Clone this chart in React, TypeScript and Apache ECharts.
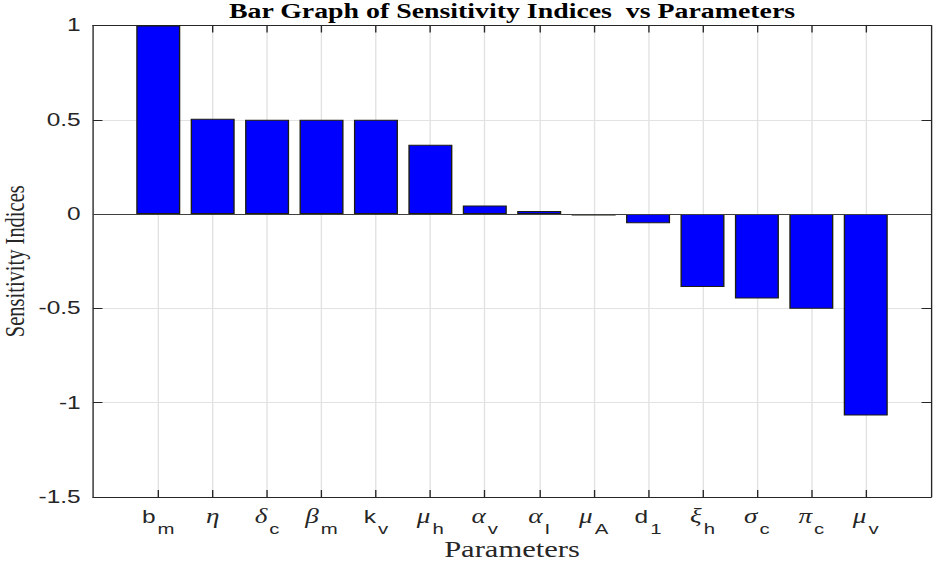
import React, { useEffect, useRef } from 'react';
import * as echarts from 'echarts';

// ---- data ----
const paramBase = ['b', 'η', 'δ', 'β', 'k', 'μ', 'α', 'α', 'μ', 'd', 'ξ', 'σ', 'π', 'μ'];
const paramSub = ['m', '', 'c', 'm', 'v', 'h', 'v', 'I', 'A', '1', 'h', 'c', 'c', 'v'];
const sensitivity = [1.0, 0.505, 0.5, 0.5, 0.5, 0.368, 0.045, 0.017, -0.007, -0.048, -0.386, -0.448, -0.502, -1.068];
const yMin = -1.5;
const yMax = 1;
const yStep = 0.5;
const titleText = 'Bar Graph of Sensitivity Indices  vs Parameters';
const xName = 'Parameters';
const yName = 'Sensitivity Indices';

// ---- layout (the reference is horizontally stretched) ----
const W0 = 688;
const H0 = 562;
const STRETCH = 935 / W0;
const GRID_L = 68.4;
const GRID_R = 2.9;
const GRID_T = 25.5;
const GRID_B = 65;
const TOKEN_H = 16;
const SUB_DROP = 12;

const AXIS_COLOR = '#262626';
const GRID_COLOR = '#e2e2e2';

export default function App() {
  const ref = useRef<HTMLDivElement>(null);

  useEffect(() => {
    if (!ref.current) return;
    const chart = echarts.init(ref.current, undefined, { renderer: 'svg' });
    const idx = paramBase.map((_, i) => i);
    const xMin = -1.2;
    const xMax = paramBase.length - 1 + 1.2;
    const cx = (GRID_L + (W0 - GRID_R)) / 2;
    const cy = (GRID_T + (H0 - GRID_B)) / 2;

    const labelFormatter = (v: number) => {
      const i = Math.round(v);
      const base = paramBase[i];
      if (base === undefined) return '';
      const sub = paramSub[i];
      const greek = /[\u0370-\u03ff]/.test(base);
      return `{${greek ? 'g' : 'n'}|${base}}` + (sub ? `{s|${sub}}` : '');
    };

    const frameLine = { show: true, onZero: false, lineStyle: { color: AXIS_COLOR, width: 1 } };

    chart.setOption({
      animation: false,
      backgroundColor: '#ffffff',
      grid: { left: GRID_L, right: GRID_R, top: GRID_T, bottom: GRID_B, containLabel: false },
      xAxis: [
        {
          type: 'value',
          position: 'bottom',
          min: xMin,
          max: xMax,
          axisLine: frameLine,
          axisTick: { show: true, inside: true, length: 7, customValues: idx, lineStyle: { color: AXIS_COLOR } },
          axisLabel: {
            customValues: idx,
            formatter: labelFormatter,
            margin: 11.75,
            color: AXIS_COLOR,
            rich: {
              n: { fontFamily: 'Liberation Sans', fontSize: 18, color: AXIS_COLOR, height: TOKEN_H, padding: [0, 0, SUB_DROP, 0] },
              g: { fontFamily: 'Liberation Serif', fontStyle: 'italic', fontSize: 20, color: AXIS_COLOR, height: TOKEN_H, padding: [0, 0, SUB_DROP, 0] },
              s: { fontFamily: 'Liberation Sans', fontSize: 15, color: AXIS_COLOR, height: TOKEN_H, padding: [SUB_DROP, 0, 0, 1.5] },
            },
          },
          splitLine: { show: true, lineStyle: { color: GRID_COLOR, width: 1 } },
        },
        {
          type: 'value',
          position: 'top',
          min: xMin,
          max: xMax,
          axisLine: frameLine,
          axisTick: { show: true, inside: true, length: 7, customValues: idx, lineStyle: { color: AXIS_COLOR } },
          axisLabel: { show: false },
          splitLine: { show: false },
        },
      ],
      yAxis: [
        {
          type: 'value',
          position: 'left',
          min: yMin,
          max: yMax,
          interval: yStep,
          axisLine: frameLine,
          axisTick: { show: true, inside: true, length: 7, lineStyle: { color: AXIS_COLOR } },
          axisLabel: { fontFamily: 'Liberation Sans', fontSize: 18, color: AXIS_COLOR, margin: 9 },
          splitLine: { show: true, lineStyle: { color: GRID_COLOR, width: 1 } },
        },
        {
          type: 'value',
          position: 'right',
          min: yMin,
          max: yMax,
          interval: yStep,
          axisLine: frameLine,
          axisTick: { show: true, inside: true, length: 7, lineStyle: { color: AXIS_COLOR } },
          axisLabel: { show: false },
          splitLine: { show: false },
        },
      ],
      series: [
        {
          type: 'bar',
          xAxisIndex: 0,
          yAxisIndex: 0,
          data: sensitivity.map((v, i) => [i, v]),
          barWidth: 32.4,
          itemStyle: { color: '#0000ff', borderColor: '#1c1c10', borderWidth: 1 },
          markLine: {
            silent: true,
            symbol: ['none', 'none'],
            label: { show: false },
            lineStyle: { color: '#404040', width: 1, type: 'solid' },
            data: [{ yAxis: 0 }],
          },
        },
      ],
      graphic: [
        {
          type: 'text',
          x: cx,
          y: 10.5,
          style: {
            text: titleText,
            fontFamily: 'Liberation Serif',
            fontWeight: 'bold',
            fontSize: 20.5,
            fill: '#000000',
            align: 'center',
            verticalAlign: 'middle',
          },
        },
        {
          type: 'text',
          x: cx,
          y: 549.5,
          style: {
            text: xName,
            fontFamily: 'Liberation Serif',
            fontSize: 22.5,
            fill: AXIS_COLOR,
            align: 'center',
            verticalAlign: 'middle',
          },
        },
        {
          type: 'text',
          x: 10.7,
          y: cy,
          rotation: Math.PI / 2,
          style: {
            text: yName,
            fontFamily: 'Liberation Serif',
            fontSize: 20.5,
            fill: AXIS_COLOR,
            align: 'center',
            verticalAlign: 'middle',
          },
        },
      ],
    });

    return () => {
      chart.dispose();
    };
  }, []);

  return (
    <div
      ref={ref}
      style={{
        position: 'absolute',
        left: 0,
        top: 0,
        width: W0,
        height: H0,
        transform: `scaleX(${STRETCH})`,
        transformOrigin: '0 0',
      }}
    />
  );
}
